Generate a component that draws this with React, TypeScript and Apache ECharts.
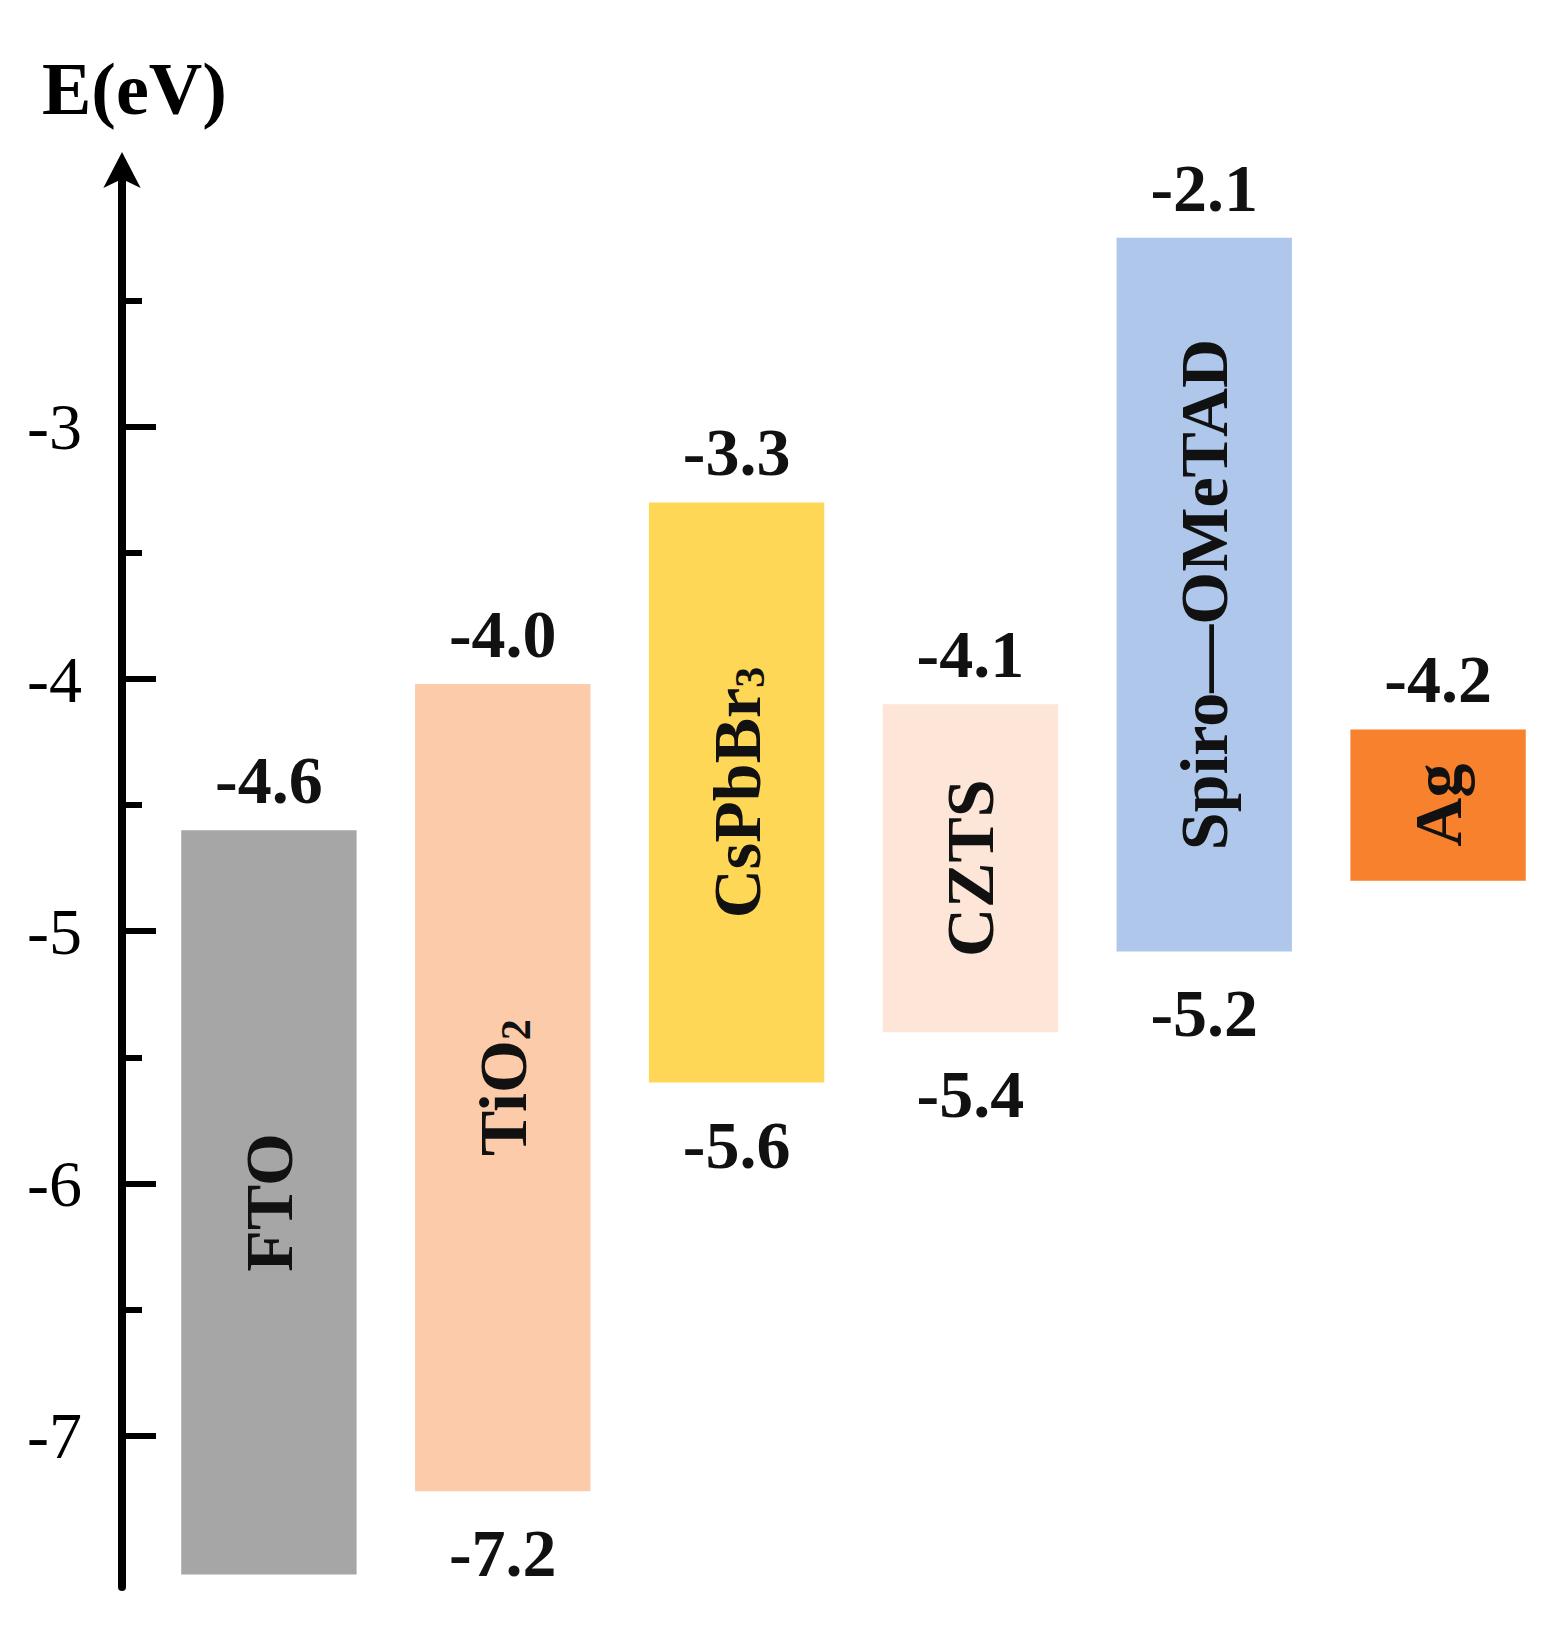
import React, { useEffect, useRef } from 'react';
import * as echarts from 'echarts';

// ---- data ----
const layers = ['FTO', 'TiO2', 'CsPbBr3', 'CZTS', 'Spiro-OMeTAD', 'Ag'];
const layerText = ['FTO', '{n|TiO}{s|2}', '{n|CsPbBr}{s|3}', 'CZTS', 'Spiro\u2014OMeTAD', 'Ag'];
// band edges as drawn in the figure (eV)
const bandTop = [-4.6, -4.02, -3.3, -4.1, -2.25, -4.2];
const bandBottom = [-7.55, -7.22, -5.6, -5.4, -5.08, -4.8];
// printed level values
const topLabels = ['-4.6', '-4.0', '-3.3', '-4.1', '-2.1', '-4.2'];
const bottomLabels = ['', '-7.2', '-5.6', '-5.4', '-5.2', ''];
const colors = ['#a6a6a6', '#fbcbaa', '#ffd757', '#fde5d8', '#aec7ea', '#f7812c'];
const majorTicks = [-7, -6, -5, -4, -3];
const minorTicks = [-6.5, -5.5, -4.5, -3.5, -2.5];
const axisMin = -7.6;
const axisMax = -1.95;

const FONT = '"Liberation Serif", "Times New Roman", serif';

export default function App() {
  const ref = useRef<HTMLDivElement>(null);

  useEffect(() => {
    if (!ref.current) return;
    const chart = echarts.init(ref.current, undefined, { renderer: 'svg' });

    const nameRich = {
      n: { fontSize: 68, fontWeight: 'bold', fontFamily: FONT, fill: '#111' },
      s: { fontSize: 42, fontWeight: 'bold', fontFamily: FONT, fill: '#111', verticalAlign: 'bottom' },
    };

    const valueStyle = {
      fontSize: 68,
      fontWeight: 'bold',
      fontFamily: FONT,
      fill: '#111',
      align: 'center',
      verticalAlign: 'middle',
    };

    const option: any = {
      animation: false,
      backgroundColor: '#ffffff',
      title: {
        text: 'E(eV)',
        left: 42,
        top: 52,
        padding: 0,
        textStyle: { fontFamily: FONT, fontWeight: 'bold', fontSize: 74, color: '#000' },
      },
      grid: { left: 152, right: 5, top: 162, bottom: 43 },
      xAxis: {
        type: 'category',
        data: layers,
        show: false,
        boundaryGap: true,
      },
      yAxis: [
        {
          type: 'value',
          min: axisMin,
          max: axisMax,
          position: 'left',
          offset: 30,
          splitLine: { show: false },
          axisLine: {
            show: true,
            symbol: ['none', 'arrow'],
            symbolSize: [28, 36],
            symbolOffset: [0, 10],
            lineStyle: { color: '#000', width: 8 },
          },
          axisTick: {
            show: true,
            inside: true,
            length: 34,
            customValues: majorTicks,
            lineStyle: { color: '#000', width: 6 },
          },
          axisLabel: {
            show: true,
            customValues: majorTicks,
            margin: 40,
            fontFamily: FONT,
            fontSize: 66,
            color: '#000',
            formatter: (v: number) => String(v),
          },
        },
        {
          type: 'value',
          min: axisMin,
          max: axisMax,
          position: 'left',
          offset: 30,
          splitLine: { show: false },
          axisLine: { show: false },
          axisTick: {
            show: true,
            inside: true,
            length: 20,
            customValues: minorTicks,
            lineStyle: { color: '#000', width: 6 },
          },
          axisLabel: { show: false },
        },
      ],
      series: [
        {
          type: 'custom',
          coordinateSystem: 'cartesian2d',
          xAxisIndex: 0,
          yAxisIndex: 0,
          encode: { x: 0, y: [1, 2] },
          data: layers.map((_, i) => [i, bandTop[i], bandBottom[i]]),
          renderItem: (params: any, api: any) => {
            const i = params.dataIndex;
            const pTop = api.coord([api.value(0), api.value(1)]);
            const pBot = api.coord([api.value(0), api.value(2)]);
            const bw = api.size([1, 0])[0] * 0.75;
            const cx = pTop[0];
            const children: any[] = [
              {
                type: 'rect',
                shape: { x: cx - bw / 2, y: pTop[1], width: bw, height: pBot[1] - pTop[1] },
                style: { fill: colors[i] },
              },
              {
                type: 'text',
                x: cx,
                y: (pTop[1] + pBot[1]) / 2,
                rotation: Math.PI / 2,
                style: {
                  text: layerText[i],
                  rich: nameRich,
                  fontSize: 68,
                  fontWeight: 'bold',
                  fontFamily: FONT,
                  fill: '#111',
                  align: 'center',
                  verticalAlign: 'middle',
                },
              },
              {
                type: 'text',
                x: cx,
                y: pTop[1] - 50,
                style: { ...valueStyle, text: topLabels[i] },
              },
            ];
            if (bottomLabels[i]) {
              children.push({
                type: 'text',
                x: cx,
                y: pBot[1] + 62,
                style: { ...valueStyle, text: bottomLabels[i] },
              });
            }
            return { type: 'group', children };
          },
        },
      ],
    };

    chart.setOption(option);
    return () => chart.dispose();
  }, []);

  return (
    <div
      ref={ref}
      style={{ position: 'absolute', left: 0, top: 0, width: 1560, height: 1630 }}
    />
  );
}
